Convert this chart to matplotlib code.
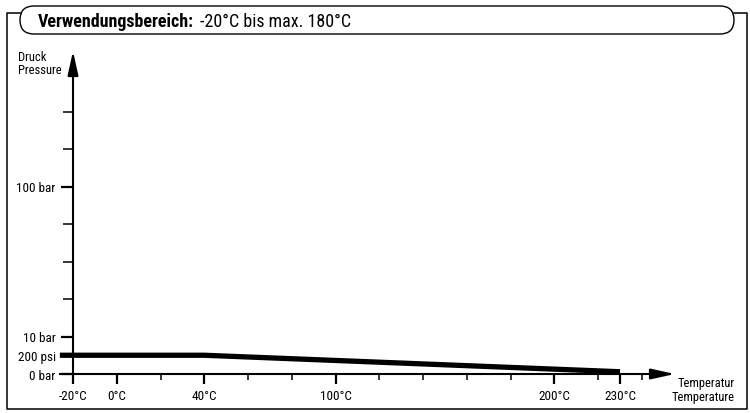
import matplotlib
matplotlib.use('Agg')
import matplotlib.pyplot as plt
from matplotlib.patches import FancyBboxPatch

plt.rcParams['font.family'] = ['Roboto Condensed', 'DejaVu Sans']

# pressure curve (temperature in °C, pressure in axis units: 0 bar=0, 10 bar=1, 100 bar=5)
temps = [-26, 40, 230]
press = [0.5, 0.5, 0.06]

x_major = [-20, 0, 40, 100, 200, 230]
x_labels = ['-20°C', '0°C', '40°C', '100°C', '200°C', '230°C']
x_minor = [20, 60, 80, 120, 140, 160, 180, 220, 240]

y_major = [0, 0.5, 1, 5]
y_labels = ['0 bar', '200 psi', '10 bar', '100 bar']
y_minor = [2, 3, 4, 6, 7]

header_bold = 'Verwendungsbereich:'
header_text = '-20°C bis max. 180°C'

fig = plt.figure(figsize=(7.5, 4.14), dpi=100)

# frame and header in pixel coords
deco = fig.add_axes([0, 0, 1, 1], zorder=0)
deco.set_xlim(0, 750)
deco.set_ylim(414, 0)
deco.axis('off')
deco.plot([21, 7, 7, 747, 747, 734], [14, 14, 410, 410, 14, 14], color='black', lw=1.1)
deco.add_patch(FancyBboxPatch((20, 7), 714, 28, boxstyle='round,pad=0,rounding_size=14',
                              fc='white', ec='black', lw=1.0))
t1 = deco.text(38, 22, header_bold, fontsize=13, fontweight='bold', va='center', ha='left')
deco.annotate(header_text, xy=(1, 0.5), xycoords=t1, xytext=(4, 0), textcoords='offset points',
              fontsize=13, va='center', ha='left')
deco.text(18, 51, 'Druck\nPressure', fontsize=9, va='top', ha='left', linespacing=1.0)
deco.text(735, 377, 'Temperatur\nTemperature', fontsize=9, va='top', ha='right',
          multialignment='right', linespacing=1.1)

# chart axes mapped onto the figure (2.188 px per °C, 37.5 px per unit)
ax = fig.add_axes([0, 0, 1, 1], zorder=1)
ax.patch.set_visible(False)
ax.set_xlim(-20 - 73 / 2.188, -20 + 677 / 2.188)
ax.set_ylim(-39 / 37.5, 375 / 37.5)

ax.spines['top'].set_visible(False)
ax.spines['right'].set_visible(False)
ax.spines['bottom'].set_position(('data', 0))
ax.spines['left'].set_position(('data', -20))
ax.spines['bottom'].set_bounds(-26, 246)
ax.spines['left'].set_bounds(0, 8.2)
ax.spines['bottom'].set_linewidth(1.5)
ax.spines['left'].set_linewidth(1.5)

ax.set_xticks(x_major)
ax.set_xticklabels(x_labels)
ax.set_xticks(x_minor, minor=True)
ax.set_yticks(y_major)
ax.set_yticklabels(y_labels)
ax.set_yticks(y_minor, minor=True)
ax.tick_params(axis='x', which='major', direction='out', length=7.5, width=1.6, pad=3, labelsize=9.5)
ax.tick_params(axis='x', which='minor', direction='out', length=4.3, width=1.1)
ax.tick_params(axis='y', which='major', direction='out', length=8.5, width=1.6, pad=4, labelsize=9.5)
ax.tick_params(axis='y', which='minor', direction='out', length=7.5, width=1.1)

# arrow heads
ax.annotate('', xy=(255.1, 0), xytext=(244, 0),
            arrowprops=dict(arrowstyle='-|>,head_length=1.45,head_width=0.32', color='black',
                            lw=1.5, mutation_scale=10, shrinkA=0, shrinkB=0))
ax.annotate('', xy=(-20, 8.61), xytext=(-20, 8.1),
            arrowprops=dict(arrowstyle='-|>,head_length=1.45,head_width=0.32', color='black',
                            lw=1.5, mutation_scale=10, shrinkA=0, shrinkB=0))

ax.plot(temps, press, color='black', lw=3.8, solid_capstyle='butt', zorder=3)

fig.savefig('out.png', dpi=100)
